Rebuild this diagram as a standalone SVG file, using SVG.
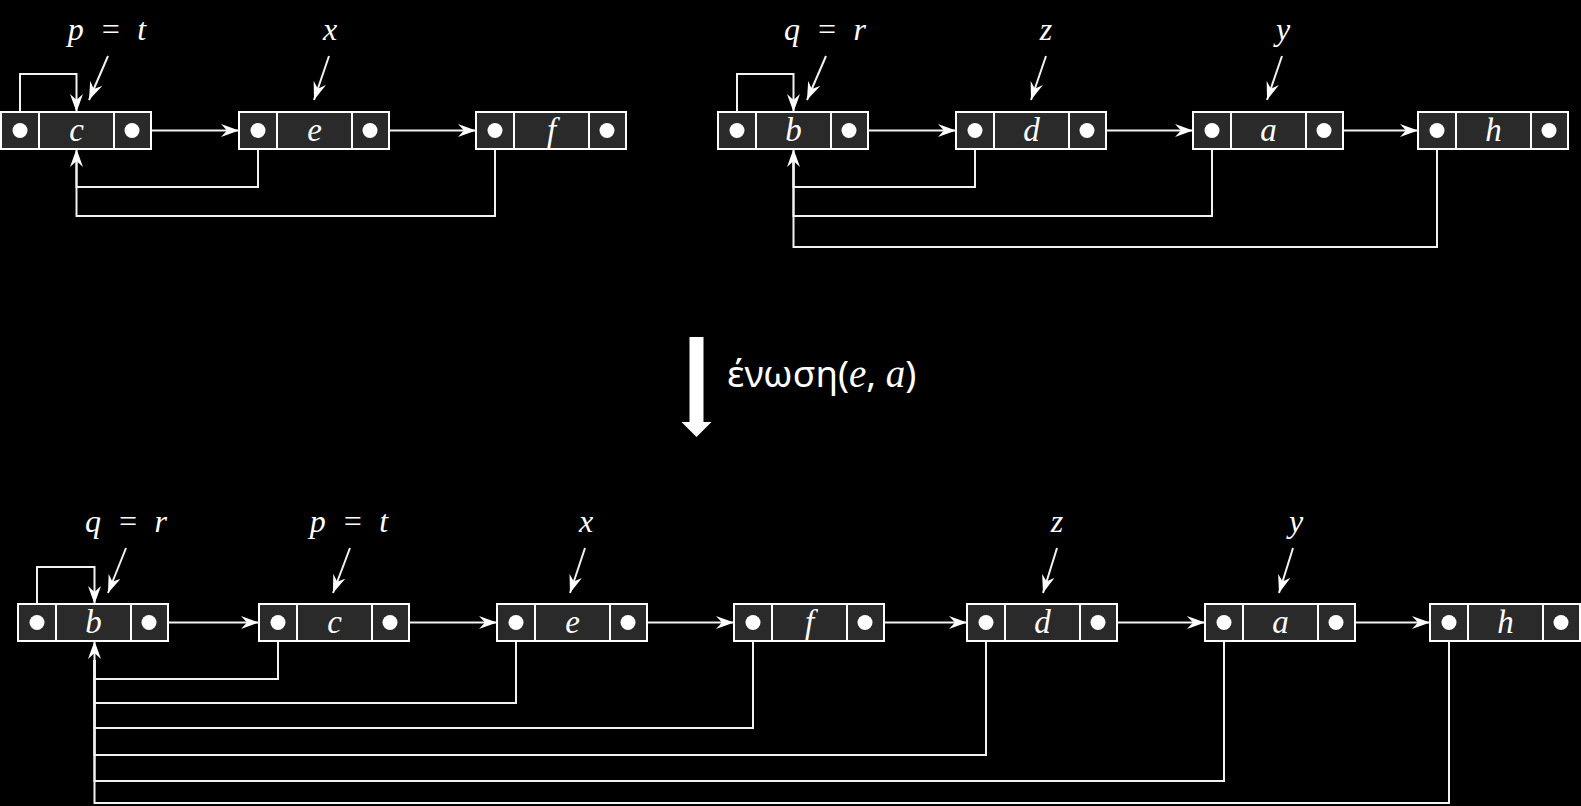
<svg xmlns="http://www.w3.org/2000/svg" width="1581" height="806" viewBox="0 0 1581 806">
<style>
.box{fill:#2a2a2a;stroke:#fff;stroke-width:2}
.div{stroke:#fff;stroke-width:2}
.dot{fill:#fff}
.ln{fill:none;stroke:#f2f2f2;stroke-width:2}
.ar{marker-end:url(#ah)}
.lbl{font-family:"Liberation Serif",serif;font-style:italic;font-size:32px;fill:#fff;text-anchor:middle}
.val{font-family:"Liberation Serif",serif;font-style:italic;font-size:33px;fill:#fff;text-anchor:middle}
.op{font-family:"Noto Sans",sans-serif;font-size:37px;fill:#fff}
.opi{font-family:"Liberation Serif",serif;font-style:italic;font-size:39px}
</style>
<defs>
<marker id="ah" markerUnits="userSpaceOnUse" viewBox="0 0 18 13" refX="18" refY="6.5" markerWidth="18" markerHeight="13" orient="auto">
<path d="M0,0 L18,6.5 L0,13 L6,6.5 z" fill="#fff"/>
</marker>
<g id="cell">
<rect class="box" x="0" y="0" width="150" height="37"/>
<line class="div" x1="38" y1="0" x2="38" y2="37"/>
<line class="div" x1="113" y1="0" x2="113" y2="37"/>
<circle class="dot" cx="19" cy="18.5" r="7.5"/>
<circle class="dot" cx="131" cy="18.5" r="7.5"/>
</g>
</defs>
<rect width="1581" height="806" fill="#000"/>

<g id="connectors">
<path class="ln ar" d="M133,130.5 H239"/>
<path class="ln ar" d="M371,130.5 H476"/>
<path class="ln ar" d="M20,130.5 V74 H76.5 V112"/>
<path class="ln" d="M495,130.5 V216 H76.5 V160"/>
<path class="ln ar" d="M258,130.5 V187 H76.5 V149"/>
<path class="ln ar" d="M850,130.5 H956"/>
<path class="ln ar" d="M1088,130.5 H1193"/>
<path class="ln ar" d="M1325,130.5 H1418"/>
<path class="ln ar" d="M737,130.5 V74 H793.5 V112"/>
<path class="ln" d="M1437,130.5 V247 H793.5 V160"/>
<path class="ln" d="M1212,130.5 V216 H793.5 V160"/>
<path class="ln ar" d="M975,130.5 V187 H793.5 V149"/>
<path class="ln ar" d="M108,56 L89,100"/>
<path class="ln ar" d="M329,56 L314,100"/>
<path class="ln ar" d="M826,56 L807,100"/>
<path class="ln ar" d="M1046,56 L1031,100"/>
<path class="ln ar" d="M1282,56 L1267,100"/>
<path class="ln ar" d="M151,622.5 H259"/>
<path class="ln ar" d="M391,622.5 H497"/>
<path class="ln ar" d="M629,622.5 H734"/>
<path class="ln ar" d="M866,622.5 H967"/>
<path class="ln ar" d="M1099,622.5 H1205"/>
<path class="ln ar" d="M1337,622.5 H1430"/>
<path class="ln ar" d="M37,622.5 V567 H94.5 V604"/>
<path class="ln" d="M1449,622.5 V803 H94.5 V660"/>
<path class="ln" d="M1224,622.5 V781 H94.5 V660"/>
<path class="ln" d="M986,622.5 V755 H94.5 V660"/>
<path class="ln" d="M753,622.5 V728 H94.5 V660"/>
<path class="ln" d="M516,622.5 V703 H94.5 V660"/>
<path class="ln ar" d="M278,622.5 V679 H94.5 V641"/>
<path class="ln ar" d="M126,548 L108,593"/>
<path class="ln ar" d="M350,548 L333,593"/>
<path class="ln ar" d="M585,548 L570,593"/>
<path class="ln ar" d="M1057,548 L1043,593"/>
<path class="ln ar" d="M1293,548 L1279,593"/>
</g>

<g id="t_c"><use href="#cell" x="1" y="112"/><text class="val" x="76.5" y="141">c</text></g>
<g id="t_e"><use href="#cell" x="239" y="112"/><text class="val" x="314.5" y="141">e</text></g>
<g id="t_f"><use href="#cell" x="476" y="112"/><text class="val" x="551.5" y="141">f</text></g>
<g id="t_b"><use href="#cell" x="718" y="112"/><text class="val" x="793.5" y="141">b</text></g>
<g id="t_d"><use href="#cell" x="956" y="112"/><text class="val" x="1031.5" y="141">d</text></g>
<g id="t_a"><use href="#cell" x="1193" y="112"/><text class="val" x="1268.5" y="141">a</text></g>
<g id="t_h"><use href="#cell" x="1418" y="112"/><text class="val" x="1493.5" y="141">h</text></g>

<g id="b_b"><use href="#cell" x="18" y="604"/><text class="val" x="93.5" y="633">b</text></g>
<g id="b_c"><use href="#cell" x="259" y="604"/><text class="val" x="334.5" y="633">c</text></g>
<g id="b_e"><use href="#cell" x="497" y="604"/><text class="val" x="572.5" y="633">e</text></g>
<g id="b_f"><use href="#cell" x="734" y="604"/><text class="val" x="809.5" y="633">f</text></g>
<g id="b_d"><use href="#cell" x="967" y="604"/><text class="val" x="1042.5" y="633">d</text></g>
<g id="b_a"><use href="#cell" x="1205" y="604"/><text class="val" x="1280.5" y="633">a</text></g>
<g id="b_h"><use href="#cell" x="1430" y="604"/><text class="val" x="1505.5" y="633">h</text></g>

<g id="labels">
<text class="lbl" x="107" y="40" xml:space="preserve">p  =  t</text>
<text class="lbl" x="330" y="40">x</text>
<text class="lbl" x="825" y="40" xml:space="preserve">q  =  r</text>
<text class="lbl" x="1046" y="40">z</text>
<text class="lbl" x="1283" y="40">y</text>
<text class="lbl" x="126" y="532" xml:space="preserve">q  =  r</text>
<text class="lbl" x="349" y="532" xml:space="preserve">p  =  t</text>
<text class="lbl" x="586" y="532">x</text>
<text class="lbl" x="1057" y="532">z</text>
<text class="lbl" x="1296" y="532">y</text>
</g>

<g id="operation">
<polygon points="689.5,337 703.5,337 703.5,422 711.5,422 696.5,437 681.5,422 689.5,422" fill="#fff"/>
<text class="op" x="727" y="387">ένωση(<tspan class="opi">e</tspan>, <tspan class="opi">a</tspan>)</text>
</g>
</svg>
